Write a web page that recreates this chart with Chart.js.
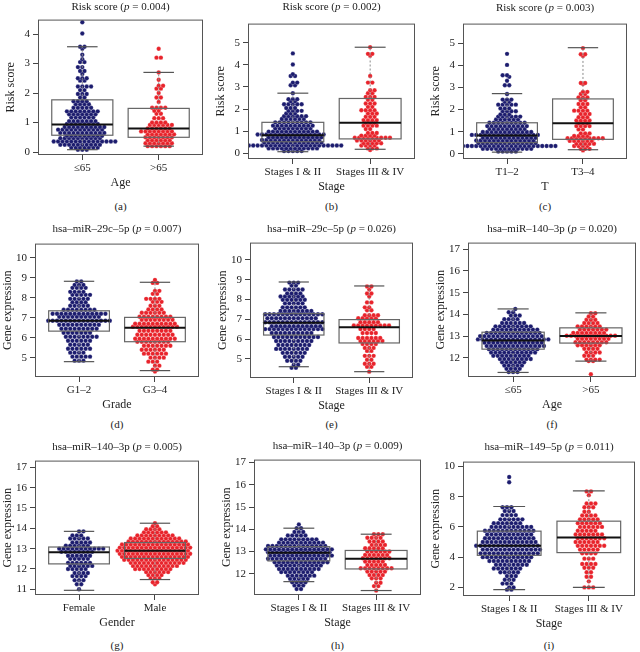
<!DOCTYPE html>
<html>
<head>
<meta charset="utf-8">
<script src="https://cdn.jsdelivr.net/npm/chart.js@4.4.1/dist/chart.umd.min.js"></script>
<style>
body{margin:0;background:#fff;width:640px;height:652px;position:relative;overflow:hidden;font-family:"Liberation Serif","DejaVu Serif",serif;color:#222}
.ttl{position:absolute;font-size:11px;white-space:nowrap;transform:translate(-50%,-50%)}
.let{position:absolute;font-size:11px;transform:translate(-50%,-50%)}
canvas{position:absolute}
</style>
</head>
<body>
<script>
// rows: [value, number of dots in that row]
var riskAgeYoung = [[4.4,1],[4.02,1],[3.57,2],[3.5,1],[3.3,1],[3.15,1],[3.05,2],[2.88,2],[2.75,2],[2.65,1],[2.5,3],[2.42,2],[2.22,4],[2.1,2],[1.97,3],[1.85,2],[1.72,4],[1.62,4],[1.5,5],[1.38,8],[1.28,7],[1.17,6],[1.05,7],[0.95,8],[0.85,10],[0.76,11],[0.65,11],[0.55,9],[0.47,10],[0.36,15],[0.25,10],[0.15,7],[0.08,3]];
var riskAgeOld = [[3.5,1],[3.2,2],[2.7,1],[2.45,1],[2.25,2],[2.15,2],[2.0,1],[1.85,2],[1.7,1],[1.5,4],[1.4,2],[1.3,2],[1.15,3],[1.0,4],[0.92,6],[0.8,6],[0.7,8],[0.6,7],[0.5,7],[0.4,6],[0.3,7],[0.2,6]];
var riskStageEarly = [[4.52,1],[4.02,1],[3.58,1],[3.5,2],[3.2,2],[3.08,2],[2.72,1],[2.45,3],[2.35,2],[2.22,5],[2.05,3],[1.92,4],[1.8,3],[1.68,6],[1.55,6],[1.4,9],[1.25,10],[1.12,9],[0.98,12],[0.85,16],[0.72,13],[0.6,14],[0.48,14],[0.35,22],[0.22,12],[0.1,5]];
var riskStageLate = [[4.8,1],[4.5,2],[4.42,1],[3.5,1],[3.2,2],[2.85,2],[2.72,2],[2.55,3],[2.42,2],[2.25,3],[2.1,2],[1.95,4],[1.8,3],[1.65,3],[1.5,4],[1.38,3],[1.25,4],[1.1,2],[0.92,3],[0.8,4],[0.7,9],[0.58,6],[0.45,5],[0.35,4],[0.22,3],[0.15,1]];
var riskT12 = [[4.52,1],[4.02,1],[3.55,2],[3.48,1],[3.3,1],[3.1,2],[2.7,1],[2.45,3],[2.35,2],[2.22,5],[2.05,3],[1.92,4],[1.78,3],[1.68,6],[1.55,6],[1.4,9],[1.25,10],[1.12,9],[0.98,12],[0.85,16],[0.72,13],[0.6,14],[0.48,14],[0.35,22],[0.22,12],[0.1,5]];
var riskT34 = [[4.78,1],[4.5,2],[4.42,1],[3.2,2],[3.15,1],[2.8,2],[2.7,2],[2.55,3],[2.42,2],[2.25,3],[2.1,2],[1.95,4],[1.8,3],[1.65,3],[1.5,4],[1.38,3],[1.25,4],[1.1,2],[0.92,3],[0.8,4],[0.7,9],[0.58,6],[0.45,5],[0.35,4],[0.22,3],[0.15,1]];
var mir29Grade12 = [[8.82,2],[8.65,3],[8.5,4],[8.3,4],[8.15,5],[7.95,5],[7.78,4],[7.6,5],[7.4,8],[7.2,13],[7.05,10],[6.85,15],[6.65,10],[6.45,9],[6.25,7],[6.05,8],[5.85,6],[5.65,5],[5.45,6],[5.25,4],[5.05,5],[4.85,3]];
var mir29Grade34 = [[8.9,1],[8.75,2],[8.35,2],[8.2,2],[7.95,4],[7.8,3],[7.6,3],[7.42,4],[7.25,6],[7.05,8],[6.9,8],[6.7,10],[6.55,11],[6.35,8],[6.15,9],[5.95,10],[5.8,8],[5.6,7],[5.4,6],[5.2,6],[5.0,4],[4.8,3],[4.6,2],[4.4,2],[4.3,1]];
var mir29StageEarly = [[8.85,3],[8.7,2],[8.5,5],[8.3,4],[8.15,6],[7.98,6],[7.8,5],[7.6,6],[7.42,8],[7.25,14],[7.05,12],[6.85,14],[6.65,12],[6.5,14],[6.3,10],[6.1,11],[5.9,9],[5.7,8],[5.5,8],[5.3,6],[5.1,5],[4.9,4],[4.7,2],[4.55,2]];
var mir29StageLate = [[8.65,2],[8.5,1],[8.3,2],[8.15,1],[7.85,2],[7.6,2],[7.45,2],[7.2,4],[7.05,5],[6.85,5],[6.68,9],[6.5,4],[6.3,4],[6.05,6],[5.9,6],[5.75,4],[5.55,3],[5.4,2],[5.15,3],[4.95,2],[4.75,3],[4.6,2],[4.35,1]];
var mir140AgeYoung = [[14.25,1],[14.1,2],[13.95,3],[13.78,4],[13.6,6],[13.45,9],[13.3,11],[13.15,13],[13.0,15],[12.85,17],[12.7,14],[12.55,14],[12.4,12],[12.25,11],[12.1,9],[11.95,8],[11.8,6],[11.65,5],[11.5,4],[11.35,3]];
var mir140AgeOld = [[14.05,2],[13.9,2],[13.75,3],[13.6,4],[13.45,6],[13.3,7],[13.15,8],[13.02,12],[12.88,8],[12.72,8],[12.58,6],[12.42,4],[12.25,4],[12.1,3],[11.92,4],[11.85,2],[11.25,1]];
var mir140Female = [[13.85,2],[13.65,3],[13.5,5],[13.3,5],[13.15,6],[13.0,11],[12.85,8],[12.65,6],[12.5,5],[12.3,6],[12.15,6],[12.0,5],[11.8,4],[11.65,4],[11.45,3],[11.25,2],[11.0,1]];
var mir140Male = [[14.25,1],[14.1,2],[13.95,4],[13.8,6],[13.65,9],[13.5,12],[13.35,14],[13.2,16],[13.05,17],[12.9,17],[12.75,17],[12.6,16],[12.45,15],[12.3,13],[12.15,11],[12.0,9],[11.85,6],[11.7,4],[11.55,3],[11.35,2],[11.25,1]];
var mir140StageEarly = [[14.22,1],[14.05,2],[13.88,3],[13.72,5],[13.55,9],[13.4,11],[13.25,14],[13.1,16],[12.97,15],[12.82,15],[12.68,14],[12.52,13],[12.38,11],[12.22,10],[12.08,8],[11.92,7],[11.78,5],[11.62,4],[11.48,3],[11.32,2]];
var mir140StageLate = [[13.78,3],[13.62,4],[13.45,4],[13.3,4],[13.15,5],[13.0,6],[12.85,6],[12.7,7],[12.55,5],[12.4,5],[12.25,8],[12.1,5],[11.95,4],[11.8,3],[11.6,2],[11.45,2],[11.25,1]];
var mir149StageEarly = [[9.3,1],[8.95,1],[7.3,3],[7.05,3],[6.78,4],[6.5,6],[6.25,7],[6.0,10],[5.75,12],[5.5,11],[5.25,12],[5.0,13],[4.75,15],[4.5,14],[4.25,14],[4.0,12],[3.75,10],[3.5,8],[3.25,7],[3.0,5],[2.75,3],[2.5,3],[2.25,3],[2.0,2],[1.85,2]];
var mir149StageLate = [[8.35,2],[8.1,1],[7.55,3],[7.3,3],[7.0,2],[6.75,4],[6.5,5],[6.25,6],[6.0,6],[5.75,5],[5.5,7],[5.25,7],[5.0,6],[4.75,7],[4.5,5],[4.25,4],[3.9,3],[3.55,4],[3.3,3],[3.0,2],[2.7,2],[2.4,1],[2.0,3]];

// box stats per group: [lower whisker, Q1, median, Q3, upper whisker]
var riskAgeBox = [[0.08,0.57,0.93,1.77,3.57],[0.2,0.5,0.8,1.48,2.7]];
var riskStageBox = [[0.07,0.52,0.82,1.4,2.72],[0.18,0.65,1.38,2.48,4.8]];
var riskTBox = [[0.07,0.5,0.82,1.4,2.72],[0.18,0.65,1.38,2.48,4.8]];
var mir29GradeBox = [[4.8,6.33,6.85,7.35,8.83],[4.35,5.8,6.5,7.02,8.78]];
var mir29StageBox = [[4.6,6.2,6.82,7.28,8.88],[4.35,5.8,6.6,6.98,8.68]];
var mir140AgeBox = [[11.33,12.4,12.8,13.18,14.25],[11.85,12.68,13.0,13.38,14.07]];
var mir140GenderBox = [[10.95,12.25,12.82,13.08,13.85],[11.48,12.52,12.9,13.3,14.25]];
var mir140StageBox = [[11.65,12.58,12.95,13.22,14.05],[11.25,12.22,12.68,13.05,13.78]];
var mir149StageBox = [[1.85,4.12,4.75,5.72,7.35],[2.0,4.3,5.3,6.38,8.38]];

var ageCats = ['≤65', '>65'];
var stageCats = ['Stages I & II', 'Stages III & IV'];
var tCats = ['T1–2', 'T3–4'];
var gradeCats = ['G1–2', 'G3–4'];
var genderCats = ['Female', 'Male'];

var riskTicksA = [0, 1, 2, 3, 4];
var riskTicksB = [0, 1, 2, 3, 4, 5];
var mir29Ticks = [5, 6, 7, 8, 9, 10];
var mir140Ticks = [12, 13, 14, 15, 16, 17];
var mir140TicksG = [11, 12, 13, 14, 15, 16, 17];
var mir149Ticks = [2, 4, 6, 8, 10];

var NAVY = '#1c1c6e', RED = '#e8232b';
var GAP = 4.4;

var panels = [
  {f:[38,14,203,155], y:[-0.1,4.49], ticks:riskTicksA, rows:[riskAgeYoung,riskAgeOld], box:riskAgeBox, cats:ageCats, yt:'Risk score', xt:'Age', title:'Risk score (<i>p</i> = 0.004)', ty:6, lab:'(a)', ly:206},
  {f:[248,18,415,159], y:[-0.26,5.87], ticks:riskTicksB, rows:[riskStageEarly,riskStageLate], box:riskStageBox, cats:stageCats, yt:'Risk score', xt:'Stage', title:'Risk score (<i>p</i> = 0.002)', ty:6, lab:'(b)', ly:206},
  {f:[463,18,627,159], y:[-0.24,5.89], ticks:riskTicksB, rows:[riskT12,riskT34], box:riskTBox, cats:tCats, yt:'Risk score', xt:'T', title:'Risk score (<i>p</i> = 0.003)', ty:7, lab:'(c)', ly:206},
  {f:[35,238,199,377], y:[4.03,10.72], ticks:mir29Ticks, rows:[mir29Grade12,mir29Grade34], box:mir29GradeBox, cats:gradeCats, yt:'Gene expression', xt:'Grade', title:'hsa–miR–29c–5p (<i>p</i> = 0.007)', ty:228, lab:'(d)', ly:424},
  {f:[250,237,413,378], y:[4.03,10.87], ticks:mir29Ticks, rows:[mir29StageEarly,mir29StageLate], box:mir29StageBox, cats:stageCats, yt:'Gene expression', xt:'Stage', title:'hsa–miR–29c–5p (<i>p</i> = 0.026)', ty:228, lab:'(e)', ly:424},
  {f:[468,237,636,377], y:[11.12,17.3], ticks:mir140Ticks, rows:[mir140AgeYoung,mir140AgeOld], box:mir140AgeBox, cats:ageCats, yt:'Gene expression', xt:'Age', title:'hsa–miR–140–3p (<i>p</i> = 0.020)', ty:228, lab:'(f)', ly:424},
  {f:[35,455,199,595], y:[10.72,17.33], ticks:mir140TicksG, rows:[mir140Female,mir140Male], box:mir140GenderBox, cats:genderCats, yt:'Gene expression', xt:'Gender', title:'hsa–miR–140–3p (<i>p</i> = 0.005)', ty:446, lab:'(g)', ly:645},
  {f:[254,454,421,595], y:[11.05,17.13], ticks:mir140Ticks, rows:[mir140StageEarly,mir140StageLate], box:mir140StageBox, cats:stageCats, yt:'Gene expression', xt:'Stage', title:'hsa–miR–140–3p (<i>p</i> = 0.009)', ty:445, lab:'(h)', ly:645},
  {f:[463,456,635,596], y:[1.43,10.32], ticks:mir149Ticks, rows:[mir149StageEarly,mir149StageLate], box:mir149StageBox, cats:stageCats, yt:'Gene expression', xt:'Stage', title:'hsa–miR–149–5p (<i>p</i> = 0.011)', ty:446, lab:'(i)', ly:645}
];

var boxPlugin = {
  id: 'boxes',
  afterDatasetsDraw: function(chart, args, opts) {
    var ctx = chart.ctx, x = chart.scales.x, y = chart.scales.y;
    function line(x1, y1, x2, y2) { ctx.beginPath(); ctx.moveTo(x1, y1); ctx.lineTo(x2, y2); ctx.stroke(); }
    ctx.save();
    opts.stats.forEach(function(s, i) {
      var g = i + 1;
      var xl = x.getPixelForValue(g - 0.4), xr = x.getPixelForValue(g + 0.4);
      var cl = x.getPixelForValue(g - 0.2), cr = x.getPixelForValue(g + 0.2), xc = x.getPixelForValue(g);
      var p = s.map(function(v) { return y.getPixelForValue(v); });
      ctx.strokeStyle = '#8a8a8a'; ctx.lineWidth = 1; ctx.setLineDash([2, 2]);
      line(xc, p[3], xc, p[4]); line(xc, p[1], xc, p[0]);
      ctx.setLineDash([]);
      ctx.strokeStyle = '#555'; ctx.lineWidth = 1.2;
      line(cl, p[4], cr, p[4]); line(cl, p[0], cr, p[0]);
      ctx.strokeStyle = '#666';
      ctx.strokeRect(xl, p[3], xr - xl, p[1] - p[3]);
      ctx.strokeStyle = '#111'; ctx.lineWidth = 2;
      line(xl, p[2], xr, p[2]);
    });
    var a = chart.chartArea;
    ctx.strokeStyle = '#555'; ctx.lineWidth = 1;
    ctx.strokeRect(a.left + 0.5, a.top + 0.5, a.right - a.left - 1, a.bottom - a.top - 1);
    ctx.restore();
  }
};

var serif = 'Liberation Serif';

function swarm(chart, groups) {
  var x = chart.scales.x, y = chart.scales.y;
  var unit = x.getPixelForValue(1) - x.getPixelForValue(0);
  chart.data.datasets.forEach(function(ds, i) {
    var pts = [];
    var rows = groups[i].slice().sort(function(a, b) { return a[0] - b[0]; });
    var prevPx = null, prevPhase = null, side = 1;
    rows.forEach(function(r) {
      var n = r[1], py = y.getPixelForValue(r[0]);
      var phase = (n % 2 === 1) ? 0 : 0.5, shift = 0;
      if (prevPx !== null && Math.abs(prevPx - py) < GAP && phase === prevPhase) {
        shift = side * 0.5; side = -side; phase = 0.5 - phase;
      }
      for (var k = 0; k < n; k++) {
        var off = (k - (n - 1) / 2 + shift) * GAP;
        pts.push({x: i + 1 + off / unit, y: r[0]});
      }
      prevPx = py; prevPhase = phase;
    });
    ds.data = pts;
  });
  chart.update('none');
}

panels.forEach(function(P) {
  var L = P.f[0], T = P.f[1], R = P.f[2], B = P.f[3];
  var yw = 34, xh = 38, padT = 4, padR = 6;
  var cv = document.createElement('canvas');
  var w = R - L + yw + padR, h = B - T + padT + xh;
  cv.width = w; cv.height = h;
  cv.style.left = (L - yw) + 'px'; cv.style.top = (T - padT) + 'px';
  cv.style.width = w + 'px'; cv.style.height = h + 'px';
  document.body.appendChild(cv);

  var t = document.createElement('div');
  t.className = 'ttl'; t.innerHTML = P.title;
  t.style.left = ((L + R) / 2) + 'px'; t.style.top = P.ty + 'px';
  document.body.appendChild(t);
  var lb = document.createElement('div');
  lb.className = 'let'; lb.textContent = P.lab;
  lb.style.left = ((L + R) / 2) + 'px'; lb.style.top = P.ly + 'px';
  document.body.appendChild(lb);

  var chart = new Chart(cv, {
    type: 'scatter',
    data: {
      datasets: [
        {data: [], backgroundColor: NAVY, borderColor: 'rgba(255,255,255,0.55)', borderWidth: 0.4, pointRadius: 2.2},
        {data: [], backgroundColor: RED, borderColor: 'rgba(255,255,255,0.55)', borderWidth: 0.4, pointRadius: 2.2}
      ]
    },
    options: {
      responsive: false, animation: false, devicePixelRatio: 1,
      layout: {padding: {top: padT, right: padR, left: 0, bottom: 0}},
      plugins: {legend: {display: false}, tooltip: {enabled: false}, boxes: {stats: P.box}},
      scales: {
        x: {
          type: 'linear', min: 0.42, max: 2.58,
          afterBuildTicks: function(s) { s.ticks = [{value: 1}, {value: 2}]; },
          afterFit: function(s) { s.height = xh; },
          ticks: {autoSkip: false, maxRotation: 0, padding: 2, color: '#222', font: {family: serif, size: 11},
                  callback: function(v) { return P.cats[v - 1]; }},
          grid: {drawOnChartArea: false, drawTicks: true, tickLength: 5, color: '#444'},
          border: {display: false},
          title: {display: true, text: P.xt, color: '#222', font: {family: serif, size: 12}, padding: {top: 1, bottom: 3}}
        },
        y: {
          type: 'linear', min: P.y[0], max: P.y[1],
          afterBuildTicks: function(s) { s.ticks = P.ticks.map(function(v) { return {value: v}; }); },
          afterFit: function(s) { s.width = yw; },
          ticks: {autoSkip: false, padding: 3, color: '#222', font: {family: serif, size: 11}},
          grid: {drawOnChartArea: false, drawTicks: true, tickLength: 5, color: '#444'},
          border: {display: false},
          title: {display: true, text: P.yt, color: '#222', font: {family: serif, size: 12}, padding: {top: 0, bottom: 2}}
        }
      }
    },
    plugins: [boxPlugin]
  });
  swarm(chart, P.rows);
});
</script>
</body>
</html>
